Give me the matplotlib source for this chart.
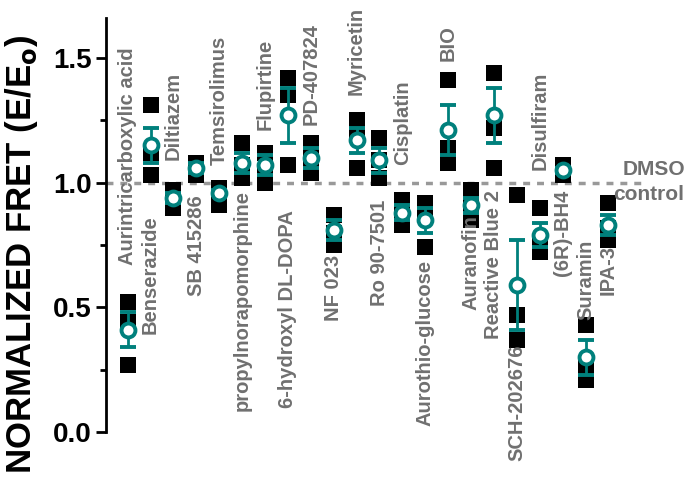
import matplotlib
matplotlib.use("Agg")
import matplotlib.pyplot as plt
import numpy as np

plt.rcParams["font.family"] = "Liberation Sans"

names = ["Aurintricarboxylic acid", "Benserazide", "Diltiazem", "SB 415286", "Temsirolimus",
         "propylnorapomorphine", "Flupirtine", "6-hydroxyl DL-DOPA", "PD-407824", "NF 023",
         "Myricetin", "Ro 90-7501", "Cisplatin", "Aurothio-glucose", "BIO", "Auranofin",
         "Reactive Blue 2", "SCH-202676", "Disulfiram", "(6R)-BH4", "Suramin", "IPA-3"]
means = [0.41, 1.15, 0.94, 1.06, 0.96, 1.08, 1.07, 1.27, 1.10, 0.81, 1.17, 1.09, 0.88, 0.85,
         1.21, 0.91, 1.27, 0.59, 0.79, 1.05, 0.30, 0.83]
errs = [0.07, 0.07, 0.02, 0.02, 0.01, 0.04, 0.04, 0.11, 0.04, 0.04, 0.05, 0.05, 0.03, 0.05,
        0.10, 0.03, 0.11, 0.18, 0.05, 0.01, 0.07, 0.04]
rep1 = [0.52, 1.31, 0.97, 1.08, 0.98, 1.16, 1.12, 1.42, 1.16, 0.87, 1.25, 1.18, 0.93, 0.92,
        1.41, 0.97, 1.44, 0.95, 0.90, 1.07, 0.43, 0.92]
rep2 = [0.44, 1.12, 0.92, 1.06, 0.96, 1.07, 1.04, 1.35, 1.10, 0.80, 1.20, 1.09, 0.88, 0.87,
        1.14, 0.91, 1.22, 0.47, 0.76, 1.05, 0.26, 0.82]
rep3 = [0.27, 1.03, 0.90, 1.03, 0.91, 1.02, 1.00, 1.07, 1.04, 0.75, 1.06, 1.02, 0.83, 0.74,
        1.08, 0.85, 1.06, 0.37, 0.72, 1.03, 0.21, 0.77]
label_y = [0.67, 0.87, 1.09, 0.95, 1.07, 0.97, 1.21, 0.89, 1.23, 0.71, 1.35, 0.93, 1.07, 0.69,
           1.49, 0.87, 0.97, 0.35, 1.05, 0.97, 0.77, 0.75]
label_up = [True, False, True, False, True, False, True, False, True, False, True, False, True,
            False, True, False, False, False, True, False, False, False]

teal = "#00807c"
gray = "#707070"
fig = plt.figure(figsize=(6.85, 5.04), dpi=100)
ax = fig.add_axes([0.155, 0.143, 0.80, 0.821])
x = np.arange(len(names))
for r in (rep1, rep2, rep3):
    ax.scatter(x, r, marker="s", s=120, color="black", zorder=2, linewidths=0)
ax.errorbar(x, means, yerr=errs, fmt="o", ms=10, mfc="white", mec=teal, mew=2.8,
            ecolor=teal, elinewidth=2, capsize=6, capthick=2, zorder=3)
for i, n in enumerate(names):
    ax.text(x[i], label_y[i], n, rotation=90, ha="center",
            va="bottom" if label_up[i] else "top", color=gray,
            fontsize=14.5, fontweight="bold", zorder=4)
ax.axhline(1.0, xmin=0, xmax=0.98, color="#999999", ls=(0, (2, 2)), lw=2.5, zorder=1)
ax.text(23.0, 1.015, "DMSO", color=gray, fontsize=15, fontweight="bold", ha="center", va="bottom")
ax.text(22.75, 0.99, "control", color=gray, fontsize=15, fontweight="bold", ha="center", va="top")
ax.set_xlim(-0.94, 23.0)
ax.set_ylim(0, 1.66)
for s in ("top", "right", "bottom"):
    ax.spines[s].set_visible(False)
ax.spines["left"].set_linewidth(2)
ax.set_xticks([])
ax.set_yticks([0, 0.5, 1.0, 1.5])
ax.set_yticklabels(["0.0", "0.5", "1.0", "1.5"])
ax.set_yticks([0.25, 0.75, 1.25], minor=True)
ax.tick_params(axis="y", which="major", length=7, width=2, labelsize=20)
ax.tick_params(axis="y", which="minor", length=4, width=2)
for t in ax.get_yticklabels():
    t.set_fontweight("bold")
ax.set_ylabel("NORMALIZED FRET (E/E$_\\mathbf{o}$)", fontsize=25, fontweight="bold")
ax.yaxis.set_label_coords(-0.155, 0.43)
ax.yaxis.label.set_va("center")
fig.savefig("out.png", dpi=100)
